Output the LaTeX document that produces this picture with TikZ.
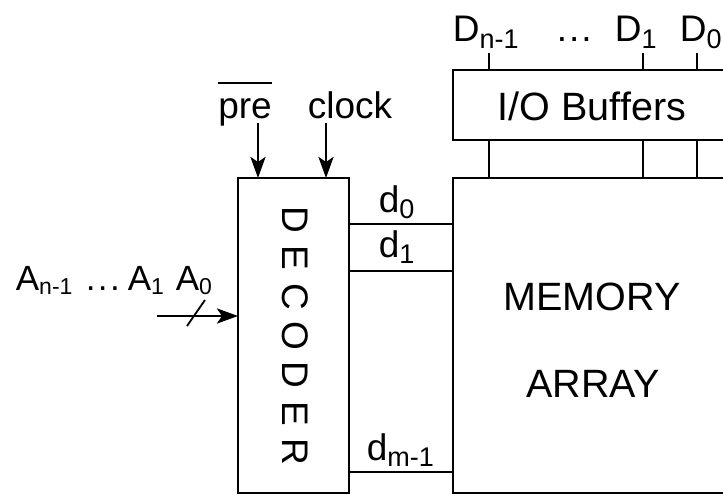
\documentclass[tikz,border=0pt]{standalone}
\usepackage{fontspec}
\setmainfont{Liberation Sans}
\usetikzlibrary{arrows.meta}
\newcommand{\mysub}[1]{{\fontsize{27}{30}\selectfont\raisebox{-6pt}{#1}}}
\newcommand{\mysubs}[1]{{\fontsize{23}{26}\selectfont\raisebox{-4pt}{#1}}}
\begin{document}
\begin{tikzpicture}[x=1pt,y=-1pt, line width=1.8pt,
  box/.style={draw, rectangle, inner sep=0pt, outer sep=0pt},
  lbl/.style={inner sep=0pt, font=\fontsize{37}{40}\selectfont},
  big/.style={inner sep=0pt, font=\fontsize{39.5}{42}\selectfont},
  arr/.style={-{Stealth[length=21pt,width=15pt,inset=5pt]}, line width=2.8pt},
  bus/.style={line width=1.5pt}]
\useasboundingbox (0,0) rectangle (723,495);
\clip (0,0) rectangle (723,495);
% boxes
\node[box, minimum width=111, minimum height=315] (dec) at (293.5,335.5) {};
\node[box, minimum width=300, minimum height=315] (mem) at (603,335.5) {};
\node[box, minimum width=300, minimum height=70] (io) at (603,105) {};
% data lines
\foreach \x/\n in {489/a,643/b,697/c} {
  \coordinate (top\n) at (\x,53);
  \draw[bus] (top\n) -- (top\n |- io.north);
  \draw[bus] (io.south -| top\n) -- (mem.north -| top\n);
}
\node[lbl, anchor=base west] (Dn) at (452,42) {D\mysub{n-1}};
\node[lbl, anchor=base west] (dots) at (556,42) {.\hspace{2pt}.\hspace{2pt}.};
\node[lbl, anchor=base west] (D1) at (614,42) {D\mysub{1}};
\node[lbl, anchor=base west] (D0) at (679,42) {D\mysub{0}};
\node[big, anchor=base] (iot) at (592,121) {I/O Buffers};
\node[big, anchor=base] (t1) at (592,310) {MEMORY};
\node[big, anchor=base] (t2) at (593,397) {ARRAY};
% control inputs
\node[lbl, anchor=base] (pre) at (245,118) {pre};
\draw[line width=2pt] ([xshift=1,yshift=14]pre.north west) -- ([xshift=-1,yshift=14]pre.north east);
\node[lbl, anchor=base] (clk) at (350,118) {clock};
\coordinate (preS) at (258,123);
\draw[arr] (preS) -- (preS |- dec.north);
\coordinate (clkS) at (326,123);
\draw[arr] (clkS) -- (clkS |- dec.north);
% address input
\node[inner sep=0pt, font=\fontsize{35}{38}\selectfont, anchor=base west] (A) at (15,290)
  {A\mysubs{n-1}\hspace{13.5pt}.\hspace{2.3pt}.\hspace{2.3pt}.\hspace{8pt}A\mysubs{1}\hspace{12pt}A\mysubs{0}};
\coordinate (inS) at (157,316);
\draw[arr] (inS) -- (inS -| dec.west);
\draw[line width=1.8pt] (187,326) -- (205,300);
% decoder outputs
\foreach \y in {224,271,472} \draw[bus] (dec.east |- 0,\y) -- (mem.west |- 0,\y);
\node[lbl, anchor=base west] (d0) at (378,212) {d\mysub{0}};
\node[lbl, anchor=base west] (d1) at (378,257) {d\mysub{1}};
\node[lbl, anchor=base west] (dm) at (366,460) {d\mysub{m-1}};
% DECODER letters
\foreach \l [count=\i] in {D,E,C,O,D,E,R}
  \node[lbl, rotate=-90] (L\i) at (295.5,{219.5+38.8*(\i-1)}) {\l};
\end{tikzpicture}
\end{document}
